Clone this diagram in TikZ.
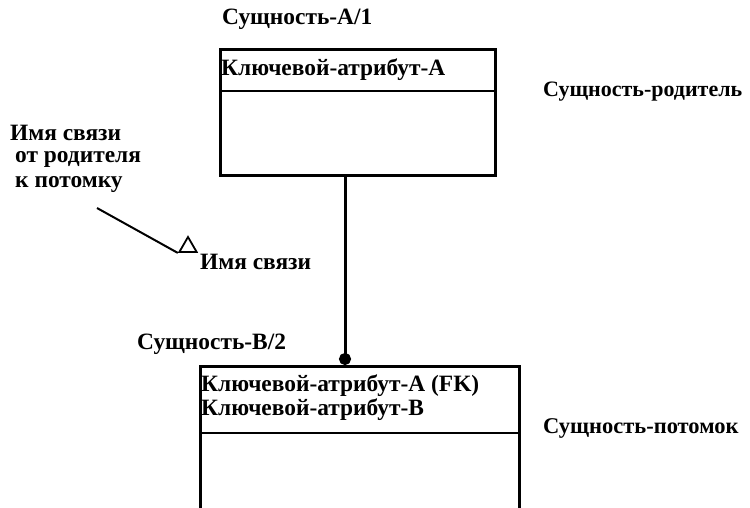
\documentclass[tikz,border=0pt]{standalone}
\usepackage{fontspec}
\setmainfont{Liberation Serif}
\usetikzlibrary{arrows.meta,shapes.geometric}
\begin{document}
\begin{tikzpicture}[x=1pt,y=-1pt,
  lbl/.style={font=\bfseries\fontsize{23.4}{26}\selectfont, inner sep=0pt, anchor=west},
  ent/.style={draw, line width=3pt, anchor=north west, inner sep=0pt},
  conn/.style={line width=3pt, -{Circle[length=12pt,width=12pt]}},
  note/.style={line width=2pt},
  marker/.style={draw, line width=1.8pt, isosceles triangle, isosceles triangle apex angle=60, shape border rotate=90, minimum height=15pt, inner sep=0pt}]
\useasboundingbox (0,0) rectangle (750,507);
\clip (0,0) rectangle (750,507);
% entity A
\node[ent, minimum width=275pt, minimum height=126pt] (boxA) at (219,48) {};
\draw[line width=2pt] (219,91) -- (497,91);
\node[lbl] (nameA) at (222,19) {Сущность-A/1};
\node[lbl] (keyA) at (221,70) {Ключевой-атрибут-A};
\node[lbl, font=\bfseries\fontsize{22}{26}\selectfont] (parent) at (543,92) {Сущность-родитель};
% entity B (cut at bottom)
\node[ent, minimum width=319pt, minimum height=170pt] (boxB) at (199,365) {};
\draw[line width=2pt] (199,433) -- (520,433);
\node[lbl] (nameB) at (137,344) {Сущность-B/2};
\node[lbl] (keyB1) at (201,386) {Ключевой-атрибут-A (FK)};
\node[lbl] (keyB2) at (201,410) {Ключевой-атрибут-B};
\node[lbl, font=\bfseries\fontsize{22.5}{26}\selectfont] (child) at (543,428) {Сущность-потомок};
% relationship
\draw[conn] (boxA.south -| 345,0) -- (boxB.north -| 345,0);
% annotation
\node[lbl] (note1) at (10,133) {Имя связи};
\node[lbl] (note2) at (15,159) {от родителя};
\node[lbl] (note3) at (15,185) {к потомку};
\node[marker] (tri) at (188,247) {};
\coordinate (nstart) at (97,208);
\draw[note] (nstart) -- (tri.left corner);
\node[lbl] (relname) at (200,262) {Имя связи};
\end{tikzpicture}
\end{document}
